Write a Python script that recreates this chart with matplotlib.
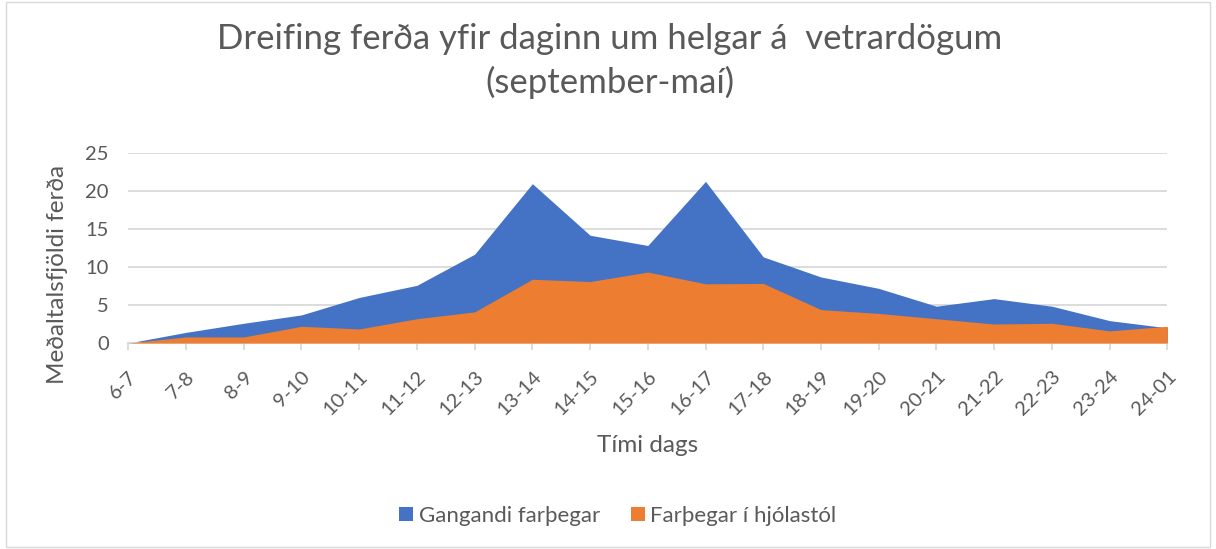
import matplotlib.pyplot as plt
import numpy as np
from matplotlib.patches import Rectangle

plt.rcParams['font.family'] = ['Lato', 'DejaVu Sans']

hours = ['6-7', '7-8', '8-9', '9-10', '10-11', '11-12', '12-13', '13-14', '14-15',
         '15-16', '16-17', '17-18', '18-19', '19-20', '20-21', '21-22', '22-23',
         '23-24', '24-01']
walking = [0, 1.4, 2.6, 3.7, 6.0, 7.6, 11.7, 21.0, 14.2, 12.85, 21.3, 11.35,
           8.7, 7.2, 4.85, 5.85, 4.85, 2.95, 2.0]
wheelchair = [0, 0.8, 0.8, 2.2, 1.85, 3.2, 4.1, 8.4, 8.1, 9.35, 7.8, 7.85,
              4.4, 3.9, 3.2, 2.5, 2.6, 1.6, 2.2]

GREY = '#595959'
BLUE = '#4472c4'
ORANGE = '#ed7d31'
W, H = 1216, 549

fig = plt.figure(figsize=(W / 100, H / 100), dpi=100)
ax = fig.add_axes([128.3 / W, 1 - 343 / H, (1167.3 - 128.3) / W, (343 - 153.3) / H])

x = np.arange(len(hours))
ax.fill_between(x, walking, color=BLUE, lw=0, label='Gangandi farþegar', zorder=2)
ax.fill_between(x, wheelchair, color=ORANGE, lw=0, label='Farþegar í hjólastól', zorder=3)

ax.set_xlim(0, len(hours) - 1)
ax.set_ylim(0, 25)
ax.set_yticks(range(0, 26, 5))
ax.yaxis.grid(True, color='#d9d9d9', lw=1.3)
ax.set_axisbelow(True)
for s in ['top', 'right', 'left']:
    ax.spines[s].set_visible(False)
ax.spines['bottom'].set_color('#d9d9d9')
ax.spines['bottom'].set_linewidth(1.3)

ax.set_xticks(x)
ax.set_xticklabels(hours, rotation=45, ha='right', rotation_mode='anchor')
ax.tick_params(axis='x', colors='#d9d9d9', length=5, width=1.3, labelcolor=GREY,
               labelsize=14.5, pad=13)
ax.tick_params(axis='y', length=0, labelcolor=GREY, labelsize=14.5, pad=14)

fig.text(57 / W, 1 - 274 / H, 'Meðaltalsfjöldi ferða', color=GREY, fontsize=17.5,
         rotation=90, ha='center', va='center')
fig.text(648 / W, 1 - 445 / H, 'Tími dags', color=GREY, fontsize=17.5,
         ha='center', va='center')
fig.text(610 / W, 1 - 61 / H, 'Dreifing ferða yfir daginn um helgar á  vetrardögum\n(september-maí)',
         color=GREY, fontsize=25, ha='center', va='center', linespacing=1.42)

leg = fig.legend(loc='center', bbox_to_anchor=(618 / W, 1 - 516 / H), ncol=2,
                 frameon=False, fontsize=16, handlelength=0.62, handleheight=0.62,
                 handletextpad=0.25, columnspacing=1.4)
for t in leg.get_texts():
    t.set_color(GREY)

fig.patches.append(Rectangle((6 / W, 2 / H), 1204 / W, 545 / H,
                             transform=fig.transFigure, fill=False,
                             edgecolor='#d9d9d9', lw=1))

fig.savefig('out.png', dpi=100)
